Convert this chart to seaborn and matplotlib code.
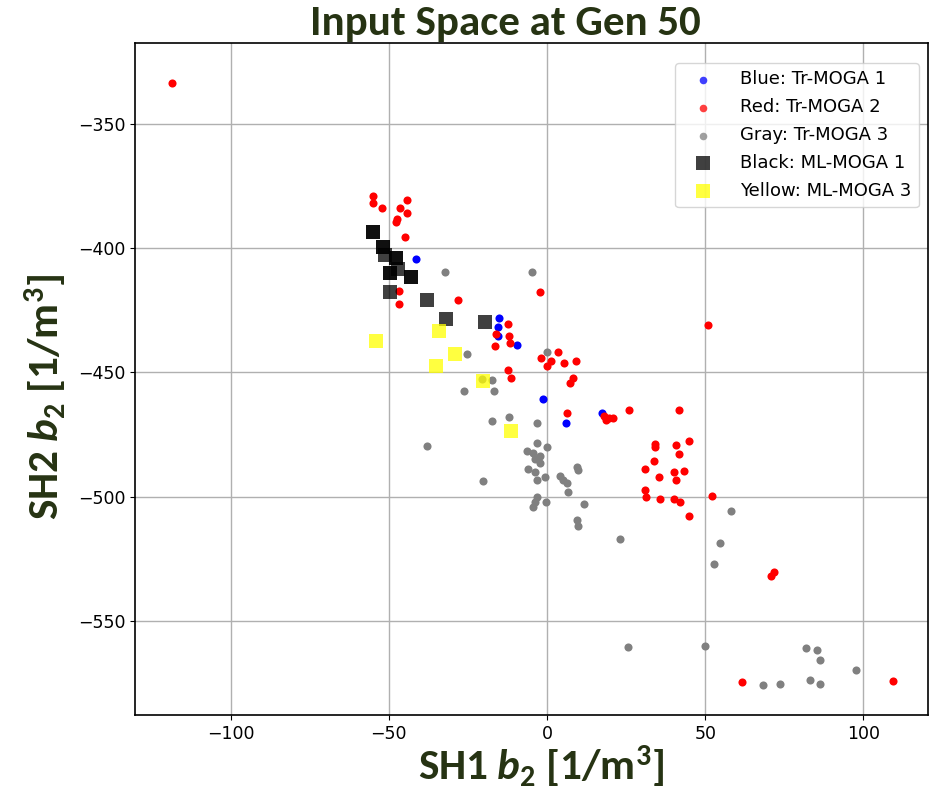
import matplotlib
matplotlib.use("Agg")
import matplotlib.pyplot as plt
from matplotlib import font_manager
import seaborn as sns

# ---------------- data ----------------
blue_x = [-41.4, -15.3, -15.4, -15.4, -9.6, -1.2, 6.0, 17.3]
blue_y = [-404.5, -428.3, -431.9, -435.3, -439.1, -460.9, -470.3, -466.5]

red_x = [-118.5, -55.1, -55.1, -52.2, -44.3, -46.4, -44.3, -47.5, -47.7, -44.8,
         -46.8, -46.9, -28.0, -2.2, -12.4, -16.1, -12.0, -11.8, -16.5, -2.0,
         3.4, 1.2, -0.1, 5.3, 9.2, -12.2, -11.5, 8.3, 7.3, 6.2,
         18.0, 19.5, 20.8, 18.5, 26.0, 41.8, 51.0, 34.1, 34.1, 40.9,
         44.8, 41.8, 33.7, 31.1, 43.2, 40.1, 35.3, 40.9, 31.1, 31.3,
         35.7, 40.1, 42.0, 52.1, 44.8, 71.7, 70.8, 61.7, 109.2]
red_y = [-333.6, -379.0, -382.0, -383.8, -380.8, -384.0, -385.8, -388.3, -389.7, -395.5,
         -417.2, -422.5, -421.0, -417.7, -430.6, -434.6, -435.4, -438.3, -439.4, -444.4,
         -442.0, -445.3, -447.5, -446.4, -445.3, -449.2, -452.2, -452.2, -454.2, -466.2,
         -467.5, -468.5, -468.3, -469.0, -465.3, -465.2, -431.0, -479.0, -479.9, -479.1,
         -477.5, -482.9, -485.6, -488.8, -489.6, -490.1, -492.0, -493.2, -497.2, -500.3,
         -501.0, -501.0, -502.3, -499.6, -508.0, -530.3, -532.0, -574.7, -574.2]

gray_x = [-32.3, -4.8, -25.2, -0.1, -17.5, -26.2, -16.6, -20.5, -17.5, -11.9,
          -3.1, -37.9, -20.3, -3.3, 0.0, -6.4, -4.3, -2.2, -3.8, -2.2,
          -5.9, -3.8, -0.5, -3.3, 9.6, 9.7, 4.1, 5.2, 6.2, 6.7,
          -3.1, -3.8, -4.3, -0.3, 11.7, 9.6, 9.7, 58.3, 23.2, 54.6,
          52.8, 25.6, 50.0, 81.7, 85.2, 86.2, 97.5, 68.3, 73.7, 83.1, 86.3]
gray_y = [-409.7, -409.8, -442.8, -441.7, -453.1, -457.4, -457.6, -452.6, -469.6, -468.1,
          -470.5, -479.6, -493.7, -478.3, -479.9, -481.5, -482.6, -483.7, -485.0, -486.4,
          -489.0, -490.0, -492.0, -493.3, -488.0, -489.3, -491.7, -493.3, -494.7, -498.0,
          -500.3, -502.0, -504.3, -502.0, -503.1, -509.4, -511.7, -505.9, -517.1, -518.8,
          -527.1, -560.5, -560.1, -560.8, -561.7, -565.9, -569.9, -576.0, -575.6, -573.8, -575.4]

black_x = [-55.1, -55.1, -51.7, -51.7, -51.2, -47.7, -47.7, -49.6, -49.6, -47.0,
           -43.1, -43.1, -49.6, -37.9, -32.0, -19.5]
black_y = [-393.7, -393.7, -399.7, -399.7, -402.8, -404.1, -404.1, -409.9, -409.9, -408.6,
           -411.5, -411.5, -417.8, -420.9, -428.7, -429.6]

yellow_x = [-54.0, -34.2, -29.1, -35.1, -20.3, -11.5]
yellow_y = [-437.3, -433.3, -442.6, -447.3, -453.5, -473.6]

labels = ["Blue: Tr-MOGA 1", "Red: Tr-MOGA 2", "Gray: Tr-MOGA 3",
          "Black: ML-MOGA 1", "Yellow: ML-MOGA 3"]

# ---------------- fonts ----------------
avail = {f.name for f in font_manager.fontManager.ttflist}
fam, big = "DejaVu Sans", 23
for name, size in [("Carlito", 31), ("Liberation Sans Narrow", 27), ("Lato", 25.8)]:
    if name in avail:
        fam, big = name, size
        break

plt.rcParams["mathtext.fontset"] = "custom"
plt.rcParams["mathtext.rm"] = f"{fam}:bold"
plt.rcParams["mathtext.it"] = f"{fam}:italic:bold"
plt.rcParams["mathtext.bf"] = f"{fam}:bold"

# ---------------- figure ----------------
fig = plt.figure(figsize=(9.39, 7.90), dpi=100)
ax = fig.add_axes([135/939, 1-715/790, (928-135)/939, (715-43)/790])

ax.grid(True, color="#b0b0b0", linewidth=1.0, zorder=0)
ax.set_axisbelow(True)

sns.scatterplot(x=blue_x, y=blue_y, color="blue", s=34, linewidth=0, ax=ax,
                label=labels[0], zorder=2)
sns.scatterplot(x=red_x, y=red_y, color="red", s=34, linewidth=0, ax=ax,
                label=labels[1], zorder=2)
sns.scatterplot(x=gray_x, y=gray_y, color="gray", s=34, linewidth=0, ax=ax,
                label=labels[2], zorder=2)
sns.scatterplot(x=black_x, y=black_y, color="black", s=95, marker="s", linewidth=0,
                alpha=0.75, ax=ax, label=labels[3], zorder=3)
sns.scatterplot(x=yellow_x, y=yellow_y, color="yellow", s=95, marker="s", linewidth=0,
                alpha=0.75, ax=ax, label=labels[4], zorder=3)

ax.set_xlim(-130.2, 120.4)
ax.set_ylim(-587.9, -317.5)
ax.set_xticks([-100, -50, 0, 50, 100])
ax.set_yticks([-550, -500, -450, -400, -350])
ax.tick_params(labelsize=12.5)
for sp in ax.spines.values():
    sp.set_color("black")
    sp.set_linewidth(1.2)

leg = ax.legend(loc="upper right", bbox_to_anchor=(0.9887, 0.970), borderaxespad=0,
                fontsize=13, framealpha=0.8, borderpad=0.4, handletextpad=1.0,
                labelspacing=0.55, handlelength=2.2)
for h in leg.legend_handles:
    h.set_alpha(0.75)
for h, s in zip(leg.legend_handles, [30, 30, 30, 95, 95]):
    try:
        h.set_sizes([s])
    except Exception:
        pass

tcol = "#263313"
fig.text(505/939, 1-24/790, "Input Space at Gen 50", ha="center", va="center",
         fontsize=big, fontweight="bold", color=tcol, family=[fam, "DejaVu Sans"])
ax.set_xlabel(r"SH1 $\mathit{b}_2$ [1/m$^3$]", fontsize=big, fontweight="bold",
              color=tcol, family=[fam, "DejaVu Sans"], va="center")
ax.xaxis.set_label_coords((541-135)/793, (715-767)/672)
ax.set_ylabel(r"SH2 $\mathit{b}_2$ [1/m$^3$]", fontsize=big, fontweight="bold",
              color=tcol, family=[fam, "DejaVu Sans"], va="center")
ax.yaxis.set_label_coords((46-135)/793, (715-397)/672)

fig.savefig("out.png", dpi=100)
